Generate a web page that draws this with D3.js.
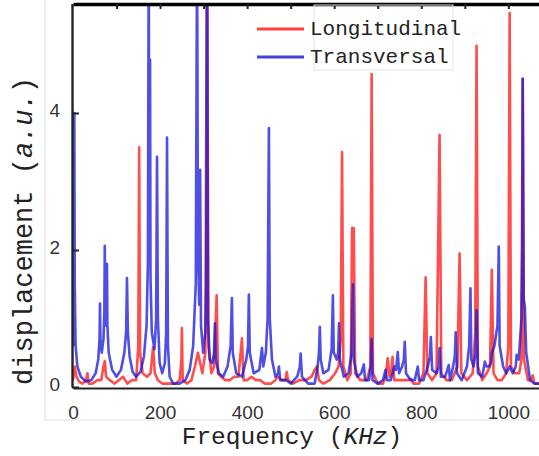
<!DOCTYPE html>
<html>
<head>
<meta charset="utf-8">
<script src="https://cdn.jsdelivr.net/npm/d3@7"></script>
<style>
  body { margin: 0; background: #fff; }
  .tick-label { font-family: "Liberation Sans", Arial, sans-serif; font-size: 19px; fill: #333; }
  .title { font-family: "Courier New", "Liberation Mono", monospace; fill: #222; }
</style>
</head>
<body>
<div id="chart"></div>
<script>
// [frequency KHz, displacement a.u.]
const longitudinal = [
  [0,0.1],[4,0.3],[8,0.15],[14,0.08],[22,0.05],[30,0.1],[33,0.2],[36,0.05],[45,0.05],[55,0.1],
  [65,0.1],[70,0.3],[73,0.38],[76,0.15],[85,0.1],[95,0.05],[105,0.1],[115,0.15],[125,0.05],
  [135,0.1],[145,0.1],[150,0.6],[152,3.5],[154,0.5],[160,0.2],[170,0.15],[178,0.2],[184,0.58],
  [188,0.2],[195,0.1],[205,0.05],[220,0.05],[235,0.05],[245,0.1],[249,0.4],[250,0.86],[252,0.1],
  [262,0.05],[272,0.1],[280,0.3],[287,0.5],[292,0.35],[297,0.2],[304,0.5],[308,7],[311,0.6],
  [318,0.2],[324,0.3],[330,1.34],[333,0.2],[340,0.15],[350,0.1],[360,0.1],[370,0.15],[380,0.15],
  [388,0.71],[392,0.1],[400,0.1],[410,0.15],[420,0.1],[430,0.1],[440,0.05],[455,0.05],[465,0.1],
  [470,0.15],[480,0.1],[488,0.1],[491,0.22],[494,0.1],[505,0.05],[520,0.1],[535,0.1],[548,0.15],
  [555,0.25],[560,0.3],[565,0.1],[575,0.05],[590,0.1],[602,0.2],[610,0.3],[615,0.7],[618,3.43],
  [621,0.3],[630,0.1],[638,0.2],[641,2.32],[645,2.32],[648,0.2],[660,0.1],[675,0.1],[683,0.3],
  [686,4.57],[689,0.2],[700,0.05],[712,0.05],[718,0.15],[723,0.42],[727,0.15],[731,0.2],[734,0.44],
  [738,0.1],[750,0.1],[762,0.1],[770,0.1],[776,0.12],[782,0.05],[795,0.05],[805,0.2],[810,1.6],
  [814,0.2],[825,0.1],[835,0.2],[842,3.68],[846,0.2],[858,0.1],[870,0.1],[883,0.3],[888,1.95],
  [892,0.2],[905,0.1],[918,0.2],[924,0.8],[927,4.98],[930,0.3],[940,0.1],[950,0.2],[958,0.3],
  [962,1.71],[966,0.2],[975,0.1],[985,0.1],[995,0.2],[1000,0.6],[1003,5.46],[1006,0.3],[1015,0.2],
  [1025,0.2],[1030,0.4],[1033,4.5],[1036,0.4],[1045,0.1],[1052,0.1],[1056,0.17],[1060,0.05],[1075,0.05]
];

const transversal = [
  [0,0.6],[2,1.8],[3,4.0],[4,1.5],[6,0.6],[10,0.3],[18,0.15],[30,0.08],[42,0.1],[52,0.2],
  [58,0.4],[61,0.7],[62,1.22],[63,0.7],[66,0.5],[70,0.7],[72,1.1],[73,2.06],[74,1.0],[76,0.9],
  [77,1.1],[78,1.8],[79,0.9],[82,0.5],[90,0.25],[100,0.15],[110,0.25],[118,0.5],[122,0.8],
  [124,1.59],[126,0.8],[130,0.45],[137,0.22],[145,0.15],[155,0.22],[163,0.45],[169,0.9],[172,1.8],
  [174,6.5],[175,3.0],[177,4.78],[178,1.6],[181,0.8],[187,0.55],[191,1.0],[193,3.36],[195,1.0],
  [199,0.35],[205,0.2],[211,0.35],[214,0.8],[216,3.64],[218,0.6],[222,0.15],[230,0.05],[245,0.05],
  [258,0.1],[268,0.25],[276,0.6],[282,1.5],[285,6.5],[287,2.0],[290,1.2],[292,3.17],[294,0.9],
  [299,0.5],[304,0.8],[306,1.5],[308,6.5],[310,1.0],[314,0.4],[320,0.35],[324,0.5],[326,0.93],
  [328,0.4],[335,0.2],[345,0.15],[355,0.3],[362,0.6],[365,1.3],[367,0.5],[375,0.2],[388,0.15],
  [398,0.4],[402,0.6],[404,1.35],[406,0.5],[415,0.2],[428,0.25],[434,0.57],[437,0.3],[443,0.5],
  [447,1.0],[450,3.78],[452,1.0],[457,0.4],[465,0.15],[471,0.2],[473,0.3],[476,0.1],[490,0.1],
  [500,0.05],[515,0.15],[521,0.3],[523,0.49],[526,0.15],[540,0.05],[555,0.05],[562,0.3],[565,0.5],
  [567,0.88],[569,0.4],[575,0.2],[587,0.25],[594,0.55],[597,1.34],[599,0.5],[606,0.4],[609,0.5],
  [611,0.93],[613,0.4],[622,0.15],[633,0.2],[640,0.5],[643,1.5],[645,0.4],[653,0.15],[662,0.2],
  [668,0.33],[671,0.1],[680,0.1],[684,0.3],[686,0.7],[688,0.1],[700,0.05],[712,0.1],[718,0.25],
  [721,0.1],[730,0.1],[736,0.25],[738,0.3],[742,0.25],[746,0.51],[749,0.2],[756,0.3],[760,0.4],
  [762,0.66],[765,0.2],[775,0.1],[785,0.1],[792,0.3],[795,0.1],[805,0.1],[815,0.3],[820,0.45],
  [822,0.73],[825,0.25],[835,0.2],[840,0.3],[842,0.57],[845,0.15],[855,0.15],[863,0.32],[866,0.1],
  [873,0.3],[877,0.45],[879,0.8],[882,0.2],[893,0.1],[905,0.3],[910,0.6],[913,1.44],[915,0.4],
  [920,0.3],[925,0.5],[927,1.12],[930,0.2],[940,0.15],[946,0.37],[950,0.3],[955,0.3],[960,0.35],
  [962,0.5],[968,0.6],[975,0.9],[978,2.05],[980,0.6],[988,0.3],[995,0.2],[1003,0.3],[1010,0.2],
  [1017,0.3],[1019,0.47],[1024,0.4],[1030,1.0],[1032,2.0],[1033,4.5],[1035,1.3],[1038,1.15],
  [1041,0.5],[1050,0.1],[1060,0.05],[1075,0.05]
];

const xTickValues = [0, 200, 400, 600, 800, 1000];
const xMinorTicks = [100, 200, 300, 400, 500, 600, 700, 800, 900, 1000];
const yTickValues = [0, 2, 4];
const seriesNames = ["Longitudinal", "Transversal"];
const seriesColors = ["#ff1010", "#1414dc"];

const width = 539, height = 456;
const svg = d3.select("#chart")
  .append("svg")
  .attr("width", width)
  .attr("height", height)
  .style("display", "block");

const x = d3.scaleLinear().domain([0, 1075]).range([73, 541]);
const y = d3.scaleLinear().domain([0, 5.6]).range([387, 3.4]);

// faint figure frame
svg.append("path")
  .attr("d", "M45,0V420H539")
  .attr("fill", "none")
  .attr("stroke", "#e2e2e2")
  .attr("stroke-width", 1.2);

svg.append("clipPath").attr("id", "plot-clip")
  .append("rect")
  .attr("x", 73).attr("y", 4)
  .attr("width", 470).attr("height", 384);

const line = d3.line()
  .x(d => x(d[0]))
  .y(d => y(d[1]));

const plot = svg.append("g").attr("clip-path", "url(#plot-clip)");
[longitudinal, transversal].forEach((data, i) => {
  plot.append("path")
    .datum(data)
    .attr("fill", "none")
    .attr("stroke", seriesColors[i])
    .attr("stroke-opacity", 0.75)
    .attr("stroke-width", 2.6)
    .attr("stroke-linejoin", "round")
    .attr("d", line);
});

// axes
const xBottom = svg.append("g")
  .attr("transform", `translate(0,${y(0) + 1})`)
  .call(d3.axisBottom(x).tickValues(xTickValues).tickFormat(d3.format("d")).tickSize(0).tickPadding(18));
xBottom.select(".domain").attr("stroke", "#222").attr("stroke-width", 1.8);
xBottom.selectAll("text").attr("class", "tick-label");

const xTop = svg.append("g")
  .attr("transform", "translate(0,4)")
  .call(d3.axisTop(x).tickValues(xMinorTicks).tickSizeInner(-5).tickSizeOuter(0).tickFormat(""));
xTop.select(".domain").attr("stroke", "#000").attr("stroke-width", 3.5);
xTop.selectAll(".tick line").attr("stroke", "#222").attr("stroke-width", 2);

const yLeft = svg.append("g")
  .attr("transform", "translate(72,0)")
  .call(d3.axisLeft(y).tickValues(yTickValues).tickFormat(d3.format("d")).tickSizeInner(-7).tickSizeOuter(0).tickPadding(12));
yLeft.select(".domain").attr("stroke", "#222").attr("stroke-width", 2.4);
yLeft.selectAll(".tick line").attr("stroke", "#222").attr("stroke-width", 2);
yLeft.selectAll("text").attr("class", "tick-label").attr("dy", "0.2em");

// titles
const xTitle = svg.append("text")
  .attr("class", "title")
  .attr("x", 292)
  .attr("y", 444)
  .attr("text-anchor", "middle")
  .style("font-size", "24.5px");
xTitle.append("tspan").text("Frequency (");
xTitle.append("tspan").attr("font-style", "italic").text("KHz");
xTitle.append("tspan").text(")");

const yTitle = svg.append("text")
  .attr("class", "title")
  .attr("transform", "translate(32,231) rotate(-90)")
  .attr("text-anchor", "middle")
  .style("font-size", "27px");
yTitle.append("tspan").text("displacement (");
yTitle.append("tspan").attr("font-style", "italic").text("a.u.");
yTitle.append("tspan").text(")");

// legend
svg.append("rect")
  .attr("x", 314).attr("y", 5)
  .attr("width", 139).attr("height", 65)
  .attr("fill", "none")
  .attr("stroke", "#e4e4e4")
  .attr("stroke-width", 1);

const legend = svg.selectAll(".legend")
  .data(seriesNames)
  .enter()
  .append("g")
  .attr("transform", (d, i) => `translate(0,${29 + i * 28})`);
legend.append("line")
  .attr("x1", 257).attr("x2", 304)
  .attr("stroke", (d, i) => seriesColors[i])
  .attr("stroke-opacity", 0.8)
  .attr("stroke-width", 3);
legend.append("text")
  .attr("class", "title")
  .attr("x", 310)
  .attr("y", 6)
  .style("font-size", "21px")
  .text(d => d);
</script>
</body>
</html>
